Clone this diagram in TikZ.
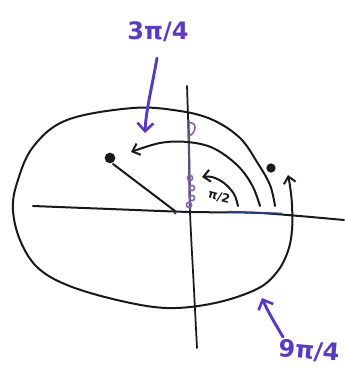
\documentclass[tikz,border=0pt]{standalone}
\usepackage{fontspec}
\setmainfont{DejaVu Sans}
\usetikzlibrary{arrows.meta}
\definecolor{purp}{RGB}{90,58,192}
\definecolor{lpurp}{RGB}{128,100,170}
\definecolor{dpurp}{RGB}{95,78,120}
\definecolor{ink}{RGB}{25,25,25}
\definecolor{navy}{RGB}{40,60,140}
\tikzset{
  pen/.style={draw=ink, line width=1.5pt, line cap=round, line join=round},
  harrow/.style={-{Straight Barb[length=5pt,width=9pt,line width=1.5pt]}},
  parrow/.style={draw=purp, line width=2.2pt, line cap=round, -{Straight Barb[length=6pt,width=12pt,line width=2pt]}},
  plabel/.style={text=purp, font=\fontsize{18}{20}\selectfont\bfseries, inner sep=0pt},
  dotmark/.style={circle, fill=ink, inner sep=0pt, minimum size=6pt},
  ring/.style={draw=lpurp, line width=1.2pt},
}
\begin{document}
\begin{tikzpicture}[x=0.75pt,y=-0.75pt]
\useasboundingbox (0,0) rectangle (344,383);
% horizontal axis
\draw[pen] plot[smooth] coordinates {(33,206) (110,209) (190,212) (260,213) (344,220)};
\draw[draw=navy, line width=1.4pt] (228,211.8) -- (282,213.6);
% vertical axis
\draw[pen, line width=1.3pt] plot[smooth] coordinates {(187,86) (189,150) (190,212) (194,290) (197,348)};
% purple marks on the vertical axis
\draw[draw=dpurp, line width=1.6pt] (188.5,120) -- (190,210);
\draw[ring] (189,123) .. controls (197,121) and (197,133) .. (189,136);
\draw[ring] (190,178) circle (2.6);
\draw[ring] (192,188) circle (2.6);
\draw[ring] (192,198) circle (2.6);
\draw[ring] (189,205) circle (2.6);
% the big oval spiral (9pi/4)
\coordinate (s0) at (275,206);
\coordinate (s1) at (288,175);
\draw[pen, harrow] plot[smooth, tension=0.6] coordinates {(s0) (270,185) (257,162) (240,138) (213,120) (180,111) (133,108) (67,120) (33,147) (17,183) (13,210) (20,240) (37,267) (67,285) (117,300) (167,308) (215,303) (257,289) (277,272) (288,251) (292,230) (292,205) (290,186) (s1)};
% 3pi/4 arc
\coordinate (b0) at (260,206);
\coordinate (b1) at (131,152);
\draw[pen, harrow] plot[smooth, tension=0.6] coordinates {(b0) (252,185) (237,165) (213,148) (187,142) (160,143) (b1)};
% pi/2 arc
\coordinate (c0) at (238,206);
\coordinate (c1) at (202,177);
\draw[pen, harrow] plot[smooth, tension=0.6] coordinates {(c0) (234,194) (224,183) (212,177) (c1)};
% ray and points
\node[dotmark, minimum size=8pt] (P) at (110,158) {};
\coordinate (O) at (175,211);
\draw[pen] (O) -- (113,164);
\fill[navy] (175,213) circle (1.5);
\node[dotmark, minimum size=7pt] (Q) at (271,168) {};
% labels
\node[inner sep=0pt, text=ink, font=\fontsize{9}{10}\selectfont\bfseries, rotate=-15] (half) at (219,197) {π/2};
\node[plabel] (l34) at (158,32) {3π/4};
\coordinate (a34) at (145,133);
\draw[parrow] (157,58) .. controls (152,87) and (146,110) .. (a34);
\node[plabel, rotate=-5] (l94) at (309,351) {9π/4};
\coordinate (a94) at (262,298);
\draw[parrow] (283,337) .. controls (276,325) and (268,312) .. (a94);
\end{tikzpicture}
\end{document}
